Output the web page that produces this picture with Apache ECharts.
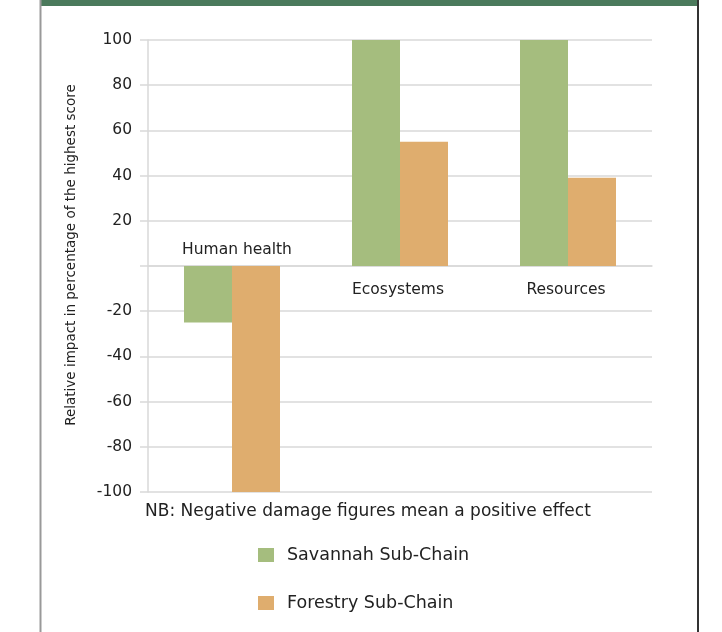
<!DOCTYPE html>
<html>
<head>
<meta charset="utf-8">
<script src="https://cdn.jsdelivr.net/npm/echarts@6/dist/echarts.min.js"></script>
<style>
html,body{margin:0;padding:0;background:#fff;}
#chart{width:722px;height:632px;}
</style>
</head>
<body>
<div id="chart"></div>
<script>
var categories = ['Human health', 'Ecosystems', 'Resources'];
var savannah = [-25, 100, 100];
var forestry = [-100, 55, 39];
var seriesNames = ['Savannah Sub-Chain', 'Forestry Sub-Chain'];
var yTitle = 'Relative impact in percentage of the highest score';
var note = 'NB: Negative damage figures mean a positive effect';

var FONT = '"DejaVu Sans", sans-serif';

// category labels sit at the zero line: above it when the category's bars are negative
var catLabels = categories.map(function (c, i) {
  var neg = savannah[i] < 0 && forestry[i] < 0;
  return {
    name: c,
    coord: [c, 0],
    label: { position: neg ? 'top' : 'bottom', distance: neg ? 8 : 16, offset: [neg ? 29 : 22, 0] }
  };
});

var chart = echarts.init(document.getElementById('chart'));
chart.setOption({
  animation: false,
  backgroundColor: '#fff',
  textStyle: { fontFamily: FONT },
  grid: { left: 148, right: 70, top: 40, bottom: 140 },
  graphic: [
    { type: 'rect', shape: { x: 40, y: 0, width: 659, height: 6 }, style: { fill: '#4b7a5c' }, silent: true },
    { type: 'line', shape: { x1: 40.5, y1: 0, x2: 40.5, y2: 632 }, style: { stroke: '#999', lineWidth: 2 }, silent: true },
    { type: 'line', shape: { x1: 698, y1: 0, x2: 698, y2: 632 }, style: { stroke: '#333', lineWidth: 2 }, silent: true },
    { type: 'text', left: 145, top: 503, style: { text: note, fontSize: 17, fill: '#222', fontFamily: FONT } }
  ],
  legend: {
    orient: 'vertical',
    left: 253,
    top: 541,
    itemWidth: 16,
    itemHeight: 14,
    itemGap: 30,
    icon: 'rect',
    textStyle: { fontSize: 17.5, color: '#222', padding: [0, 0, 0, 8], fontFamily: FONT },
    data: seriesNames
  },
  xAxis: {
    type: 'category',
    data: categories,
    axisLine: { onZero: true, lineStyle: { color: '#d9d9d9', width: 1.5 } },
    axisTick: { show: false },
    axisLabel: { show: false }
  },
  yAxis: {
    type: 'value',
    min: -100,
    max: 100,
    interval: 20,
    name: yTitle,
    nameLocation: 'middle',
    nameGap: 70,
    nameTextStyle: { fontSize: 13.5, color: '#222', padding: [0, 0, 0, 22], fontFamily: FONT },
    axisLine: { show: true, lineStyle: { color: '#d9d9d9', width: 1.5 } },
    axisTick: { show: true, length: 8, lineStyle: { color: '#d9d9d9', width: 1.5 } },
    axisLabel: {
      fontSize: 15.5,
      color: '#222',
      margin: 16,
      formatter: function (v) { return v === 0 ? '' : String(v); }
    },
    splitLine: { lineStyle: { color: '#d9d9d9', width: 1.5 } }
  },
  series: [
    {
      name: seriesNames[0], type: 'bar', data: savannah, barWidth: 48, barGap: '0%',
      itemStyle: { color: '#a5bd7e' },
      markPoint: {
        symbol: 'circle',
        symbolSize: 0,
        silent: true,
        label: { show: true, formatter: '{b}', fontSize: 15.5, color: '#222', fontFamily: FONT },
        data: catLabels
      }
    },
    { name: seriesNames[1], type: 'bar', data: forestry, barWidth: 48, barGap: '0%', itemStyle: { color: '#dfad6e' } }
  ]
});
</script>
</body>
</html>
